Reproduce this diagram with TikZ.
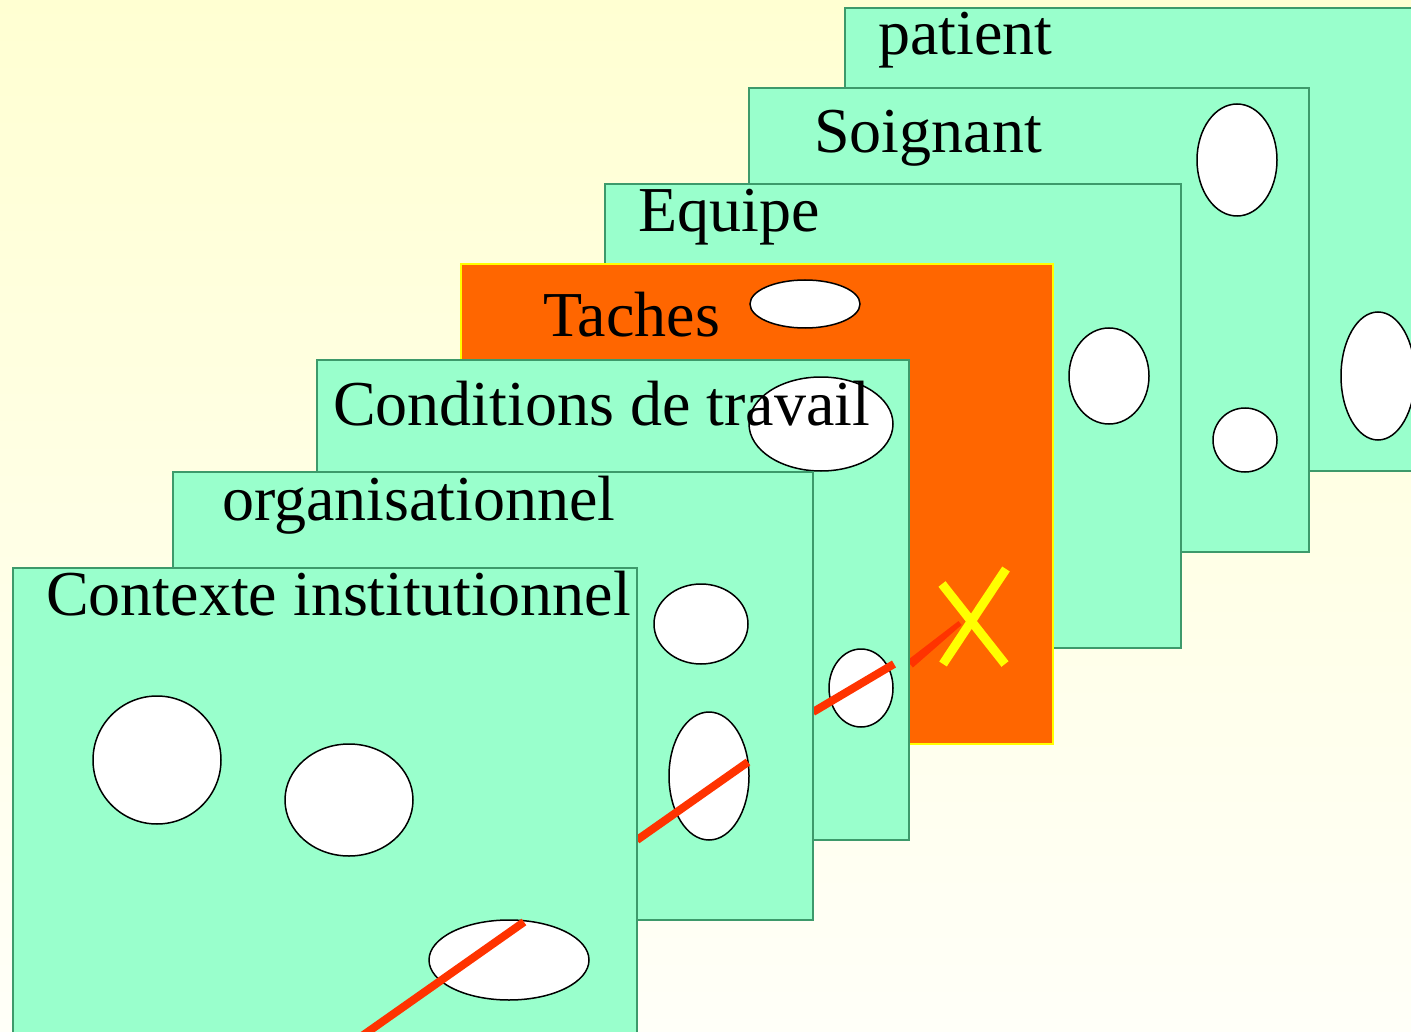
\documentclass[tikz,border=0pt]{standalone}
\usepackage{fontspec}
\setmainfont{Liberation Serif}
\definecolor{bgtop}{HTML}{FFFFD2}
\definecolor{bgbot}{HTML}{FFFFF8}
\definecolor{cheese}{HTML}{99FFCC}
\definecolor{cheeseborder}{HTML}{3D9A6B}
\definecolor{tasks}{HTML}{FF6600}
\definecolor{tasksborder}{HTML}{FFFF00}
\definecolor{traj}{HTML}{FF3300}
\definecolor{cross}{HTML}{FFFF00}
\tikzset{
  layer/.style={draw=cheeseborder, fill=cheese, line width=1.5pt, inner sep=0pt, outer sep=0pt, anchor=north west},
  tasklayer/.style={draw=tasksborder, fill=tasks, line width=2pt, inner sep=0pt, outer sep=0pt, anchor=north west},
  hole/.style={draw=black, fill=white, line width=1.5pt},
  label/.style={anchor=base west, inner sep=0pt, font=\fontsize{64}{70}\selectfont},
  trajline/.style={draw=traj, line width=8pt},
  crossline/.style={draw=cross, line width=9pt}
}
\begin{document}
\begin{tikzpicture}[x=1pt,y=-1pt]
\useasboundingbox (0,0) rectangle (1411,1032);
\clip (0,0) rectangle (1411,1032);
\shade[top color=bgtop, bottom color=bgbot] (0,0) rectangle (1411,1032);

% patient
\node[layer, minimum width=620pt, minimum height=463pt] (patient) at (845,8) {};
\node[label] (tpatient) at (878,55) {patient};
\draw[hole] (1378,376) ellipse [x radius=37pt, y radius=64pt];

% Soignant
\node[layer, minimum width=560pt, minimum height=464pt] (soignant) at (749,88) {};
\node[label] (tsoignant) at (814,153) {Soignant};
\draw[hole] (1237,160) ellipse [x radius=40pt, y radius=56pt];
\draw[hole] (1245,440) ellipse [x radius=32pt, y radius=32pt];

% Equipe
\node[layer, minimum width=576pt, minimum height=464pt] (equipe) at (605,184) {};
\node[label] (tequipe) at (638,232) {Equipe};
\draw[hole] (1109,376) ellipse [x radius=40pt, y radius=48pt];

% Taches
\node[tasklayer, minimum width=592pt, minimum height=480pt] (taches) at (461,264) {};
\node[label] (ttaches) at (543,337) {Taches};
\draw[hole] (805,304) ellipse [x radius=55pt, y radius=24pt];
\fill[traj] (907.1,660.5) -- (912.9,667.5) -- (961.6,624.9) -- (958.4,621.1) -- cycle;
\coordinate (xa1) at (942,584);
\coordinate (xa2) at (1005,664);
\coordinate (xb1) at (1006,569);
\coordinate (xb2) at (943,664);
\draw[crossline] (xa1) -- (xa2);
\draw[crossline] (xb1) -- (xb2);

% Conditions de travail
\node[layer, minimum width=592pt, minimum height=480pt] (conditions) at (317,360) {};
\draw[hole] (821,424) ellipse [x radius=72pt, y radius=47pt];
\draw[hole] (861,688) ellipse [x radius=32pt, y radius=39pt];
\node[label] (tconditions) at (333,425) {Conditions de travail};
\coordinate (c1) at (813,712);
\coordinate (c2) at (894,664);
\draw[trajline] (c1) -- (c2);

% organisationnel
\node[layer, minimum width=640pt, minimum height=448pt] (organisationnel) at (173,472) {};
\node[label] (torganisationnel) at (222,520) {organisationnel};
\draw[hole] (701,624) ellipse [x radius=47pt, y radius=40pt];
\draw[hole] (709,776) ellipse [x radius=40pt, y radius=64pt];
\coordinate (o1) at (637,840);
\coordinate (o2) at (748,762);
\draw[trajline] (o1) -- (o2);

% Contexte institutionnel
\node[layer, minimum width=624pt, minimum height=480pt] (contexte) at (13,568) {};
\node[label] (tcontexte) at (46,615) {Contexte institutionnel};
\draw[hole] (157,760) ellipse [x radius=64pt, y radius=64pt];
\draw[hole] (349,800) ellipse [x radius=64pt, y radius=56pt];
\draw[hole] (509,960) ellipse [x radius=80pt, y radius=40pt];
\coordinate (k1) at (362,1036);
\coordinate (k2) at (524,922);
\draw[trajline] (k1) -- (k2);
\end{tikzpicture}
\end{document}
